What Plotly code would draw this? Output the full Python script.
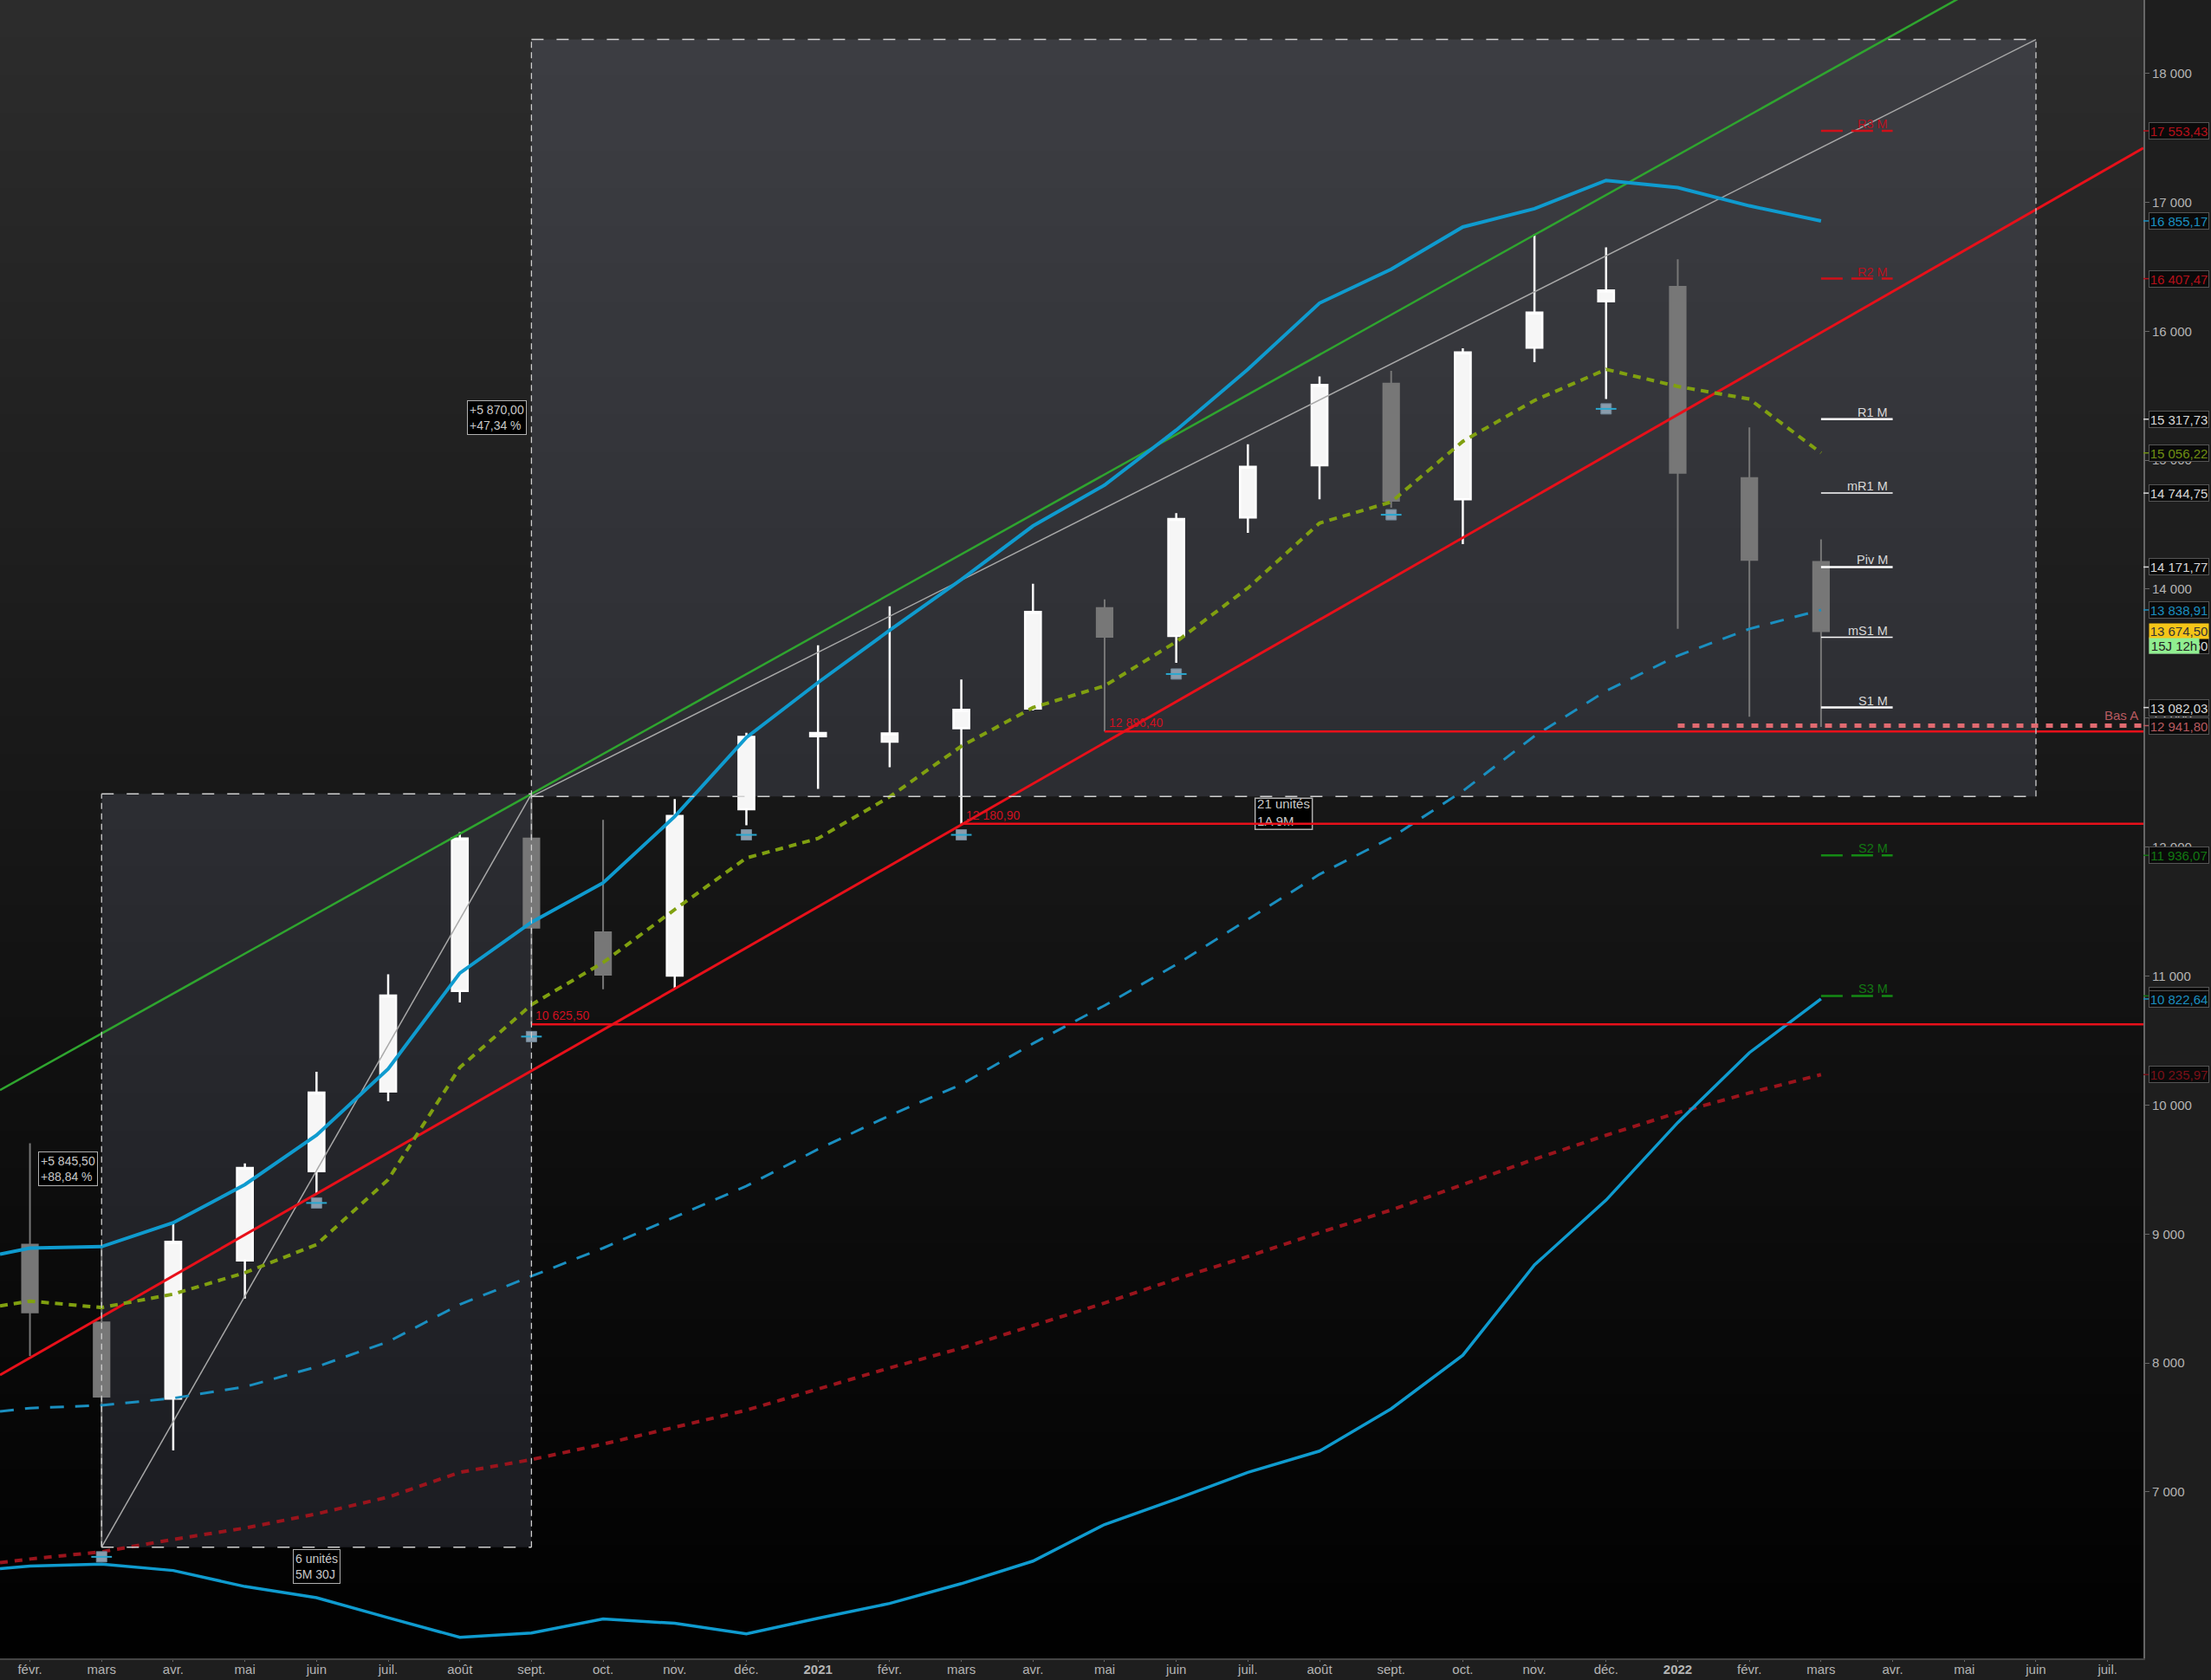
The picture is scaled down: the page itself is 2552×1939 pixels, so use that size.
import plotly.graph_objects as go

# axe des mois : un index par mois, fevr. 2020 = 0
tick_labels = ['févr.', 'mars', 'avr.', 'mai', 'juin', 'juil.', 'août', 'sept.', 'oct.', 'nov.', 'déc.', '<b>2021</b>',
               'févr.', 'mars', 'avr.', 'mai', 'juin', 'juil.', 'août', 'sept.', 'oct.', 'nov.', 'déc.', '<b>2022</b>',
               'févr.', 'mars', 'avr.', 'mai', 'juin', 'juil.']
price_ticks = [7000, 8000, 9000, 10000, 11000, 12000, 13000, 14000, 15000, 16000, 17000, 18000]
price_labels = ['7 000', '8 000', '9 000', '10 000', '11 000', '12 000', '13 000', '14 000', '15 000', '16 000', '17 000', '18 000']

# bougies mensuelles
opens = [8918, 8315, 7724, 8795, 9487, 10105, 10884, 12067, 11340, 11004, 12293, 12860, 12818, 12921, 13075, 13854,
         13637, 14556, 14961, 15594, 14697, 15872, 16232, 16345, 14862, 14211]
highs = [9703, 8900, 9090, 9547, 10258, 11013, 12115, 12412, 12211, 12372, 12886, 13565, 13867, 13300, 14042, 13921,
         14589, 15124, 15649, 15693, 15868, 16750, 16650, 16557, 15255, 14386]
lows = [8055, 6580, 7322, 8499, 9315, 10029, 10795, 10625.5, 10898, 10908, 12170, 12451, 12620, 12180.9, 13059, 12896.4,
        13429, 14437, 14697, 14632, 14349, 15760, 15475, 13693, 13010, 12932]
closes = [8392, 7738, 8939, 9512, 10097, 10849, 12067, 11375, 11011, 12242, 12855, 12885, 12882, 13064, 13823, 13630,
          14544, 14949, 15583, 14685, 15835, 16145, 16315, 14902, 14227, 13674.5]

# moyennes mobiles (bord gauche puis un point par mois)
x_left = -0.418
x_right = 29.5
ma_fast = [8843, 8891, 8902, 9088, 9383, 9766, 10280, 11023, 11417, 11723, 12237, 12850, 13276, 13681, 14074, 14490,
           14807, 15233, 15704, 16218, 16480, 16808, 16950, 17169, 17114, 16972, 16855.17]
ma_olive = [8443, 8480, 8430, 8534, 8700, 8918, 9422, 10291, 10778, 11105, 11516, 11916, 12067, 12390, 12782, 13082,
            13250, 13592, 14009, 14512, 14676, 15146, 15463, 15704, 15572, 15474, 15056.22]
ma_dash_blue = [7625, 7650, 7672, 7727, 7815, 7970, 8165, 8454, 8673, 8891, 9132, 9372, 9657, 9919, 10160, 10477,
                10772, 11089, 11439, 11789, 12073, 12434, 12861, 13211, 13484, 13692, 13838.91]
ma_dash_red = [6452, 6480, 6536, 6632, 6720, 6830, 6960, 7152, 7251, 7371, 7502, 7634, 7798, 7962, 8115, 8290,
               8465, 8651, 8826, 9011, 9186, 9383, 9580, 9766, 9941, 10094, 10235.97]
ma_low_blue = [6405, 6425, 6440, 6391, 6267, 6180, 6025, 5873, 5906, 6015, 5982, 5900, 6021, 6136, 6289, 6464,
               6748, 6945, 7152, 7317, 7645, 8060, 8760, 9263, 9864, 10406, 10822.64]

# droites de tendance, rectangles de mesure
red_trend = [7907, 17420]
green_trend = [10116, 19378]
rect1_x = [1, 7]
rect1_y = [6572, 12412]
rect2_x = [7, 28]
rect2_y = [12392, 18262]

# niveaux horizontaux : (index de depart, prix, etiquette)
level_start = [7, 13, 15]
level_price = [10625.5, 12180.9, 12896.4]
level_text = ['10 625,50', '12 180,90', '12 896,40']
bas_a_start = 23
bas_a = 12941.8

# points pivots mensuels
pivot_names = ['R3 M', 'R2 M', 'R1 M', 'mR1 M', 'Piv M', 'mS1 M', 'S1 M', 'S2 M', 'S3 M']
pivot_values = [17553.43, 16407.47, 15317.73, 14744.75, 14171.77, 13626.6, 13082.03, 11936.07, 10846.33]

# icones sous les bas
icon_x = [1, 4, 7, 10, 13, 16, 19, 22]
icon_y = [6497, 9241, 10531, 12095, 12095, 13342, 14577, 15398]

# etiquettes de prix a droite
tag_values = [17553.43, 16855.17, 16407.47, 15317.73, 15056.22, 14744.75, 14171.77, 13838.91, 13082.03, 12941.8,
              11936.07, 10846.33, 10822.64, 10235.97]
tag_colors = ['#b5101a', '#1a8fc0', '#b5101a', '#d8d8d8', '#6f8f12', '#d8d8d8', '#d8d8d8', '#1a8fc0', '#d8d8d8', '#b85a60',
              '#127812', '#127812', '#1a8fc0', '#7a1018']

FONT = 'Liberation Sans'
BLUE = '#0f9bcf'


def fr_price(v):
    s = f'{v:,.2f}'
    return s.replace(',', ' ').replace('.', ',')


months = list(range(len(closes)))
x_ma = [x_left] + months

fig = go.Figure()

# fond degrade : chaque bande descend jusqu'en bas et recouvre la precedente, pas de raccord visible
bands = 44
for b in range(bands):
    g = 44 - b
    fig.add_shape(type='rect', xref='paper', yref='paper', x0=0, x1=1, y0=0, y1=1 - b / bands,
                  fillcolor=f'rgb({g},{g},{g})', line=dict(width=0), layer='below')

for xs, ys in [(rect1_x, rect1_y), (rect2_x, rect2_y)]:
    fig.add_shape(type='rect', x0=xs[0], x1=xs[1], y0=ys[0], y1=ys[1], fillcolor='rgba(150,155,183,0.17)',
                  line=dict(width=0), layer='below')
    # bordures : pointilles plus serres a la verticale
    for x in xs:
        fig.add_shape(type='line', x0=x, x1=x, y0=ys[0], y1=ys[1], layer='above',
                      line=dict(color='#cfcfcf', width=1.3, dash='7px,5px'))
    for y in ys:
        fig.add_shape(type='line', x0=xs[0], x1=xs[1], y0=y, y1=y, layer='above',
                      line=dict(color='#cfcfcf', width=1.5, dash='14px,15px'))

# cadre noir de l'etiquette 21 unites, sous la ligne rouge
fig.add_shape(type='rect', xsizemode='pixel', ysizemode='pixel', xanchor=17.5, yanchor=12259,
              x0=-33, x1=33, y0=-18, y1=18, fillcolor='#000000', line=dict(color='#b0b0b0', width=1.5), layer='below')

fig.add_trace(go.Candlestick(x=months, open=opens, high=highs, low=lows, close=closes,
                             increasing=dict(line=dict(color='#ffffff', width=2.5), fillcolor='#f6f6f6'),
                             decreasing=dict(line=dict(color='#777777', width=2), fillcolor='#777777'),
                             whiskerwidth=0, hoverinfo='skip'))

fig.add_trace(go.Scatter(x=[rect1_x[0], rect1_x[1]], y=rect1_y, mode='lines', line=dict(color='#a8a8a8', width=1.5)))
fig.add_trace(go.Scatter(x=[rect2_x[0], rect2_x[1]], y=rect2_y, mode='lines', line=dict(color='#a8a8a8', width=1.5)))
fig.add_trace(go.Scatter(x=[x_left, x_right], y=green_trend, mode='lines', line=dict(color='#2fa52f', width=2.5)))
fig.add_trace(go.Scatter(x=[x_left, x_right], y=red_trend, mode='lines', line=dict(color='#e8101a', width=3)))

fig.add_trace(go.Scatter(x=x_ma, y=ma_dash_red, mode='lines', line=dict(color='#9a141c', width=4, dash='9px,8px')))
fig.add_trace(go.Scatter(x=x_ma, y=ma_dash_blue, mode='lines', line=dict(color='#1a8fc0', width=3, dash='16px,13px')))
fig.add_trace(go.Scatter(x=x_ma, y=ma_olive, mode='lines', line=dict(color='#80a010', width=4, dash='9px,7px')))
fig.add_trace(go.Scatter(x=x_ma, y=ma_fast, mode='lines', line=dict(color=BLUE, width=4)))
fig.add_trace(go.Scatter(x=x_ma, y=ma_low_blue, mode='lines', line=dict(color=BLUE, width=3.5)))

fig.add_trace(go.Scatter(x=[17.13], y=[12259], mode='text', text=['21 unités<br>1A 9M'],
                         textposition='middle right', textfont=dict(family=FONT, size=15, color='#c8c8c8')))

for start, price, label in zip(level_start, level_price, level_text):
    fig.add_trace(go.Scatter(x=[start, x_right], y=[price, price], mode='lines', line=dict(color='#e8101a', width=2.5)))
    fig.add_annotation(x=start, y=price, text=label, showarrow=False, xanchor='left', yanchor='bottom', xshift=3, yshift=0,
                       font=dict(family=FONT, size=14, color='#d01020'))

fig.add_trace(go.Scatter(x=[bas_a_start, x_right], y=[bas_a, bas_a], mode='lines',
                         line=dict(color='#e06a70', width=5, dash='8px,9px')))
fig.add_annotation(x=x_right, y=bas_a, text='Bas A', showarrow=False, xanchor='right', yanchor='bottom', xshift=-4, yshift=2,
                   font=dict(family=FONT, size=15, color='#b85a60'))

for name, value in zip(pivot_names, pivot_values):
    if name.startswith('R') and name != 'R1 M':
        color, dash, width = '#d0101a', '25px,10px', 2.5
        txt = '#b8101e'
    elif name in ('S2 M', 'S3 M'):
        color, dash, width = '#148a14', '25px,10px', 2.5
        txt = '#127812'
    else:
        color, dash, width = '#ffffff', None, 1.5 if name.startswith('m') else 2.5
        txt = '#d8d8d8'
    fig.add_trace(go.Scatter(x=[25, 26], y=[value, value], mode='lines', line=dict(color=color, width=width, dash=dash)))
    fig.add_annotation(x=26, y=value, text=name, showarrow=False, xanchor='right', yanchor='bottom', xshift=-4, yshift=-2,
                       font=dict(family=FONT, size=14.5, color=txt))

fig.add_trace(go.Scatter(x=icon_x, y=icon_y, mode='markers',
                         marker=dict(symbol='square', size=12, color='#8a9cac', line=dict(color='#6f8596', width=1))))
fig.add_trace(go.Scatter(x=icon_x, y=icon_y, mode='markers',
                         marker=dict(symbol='line-ew', size=17, color='#2aa8d0', line=dict(color='#2aa8d0', width=2))))

# boites de mesure
fig.add_annotation(x=1, y=9504, text='+5 845,50<br>+88,84 %', showarrow=False, xanchor='right', xshift=-4, align='left',
                   font=dict(family=FONT, size=14, color='#c8c8c8'), bgcolor='#000000', bordercolor='#b0b0b0', borderwidth=1, borderpad=2)
fig.add_annotation(x=7, y=15332, text='+5 870,00<br>+47,34 %', showarrow=False, xanchor='right', xshift=-5, align='left',
                   font=dict(family=FONT, size=14, color='#c8c8c8'), bgcolor='#000000', bordercolor='#b0b0b0', borderwidth=1, borderpad=2)
fig.add_annotation(x=4, y=6420, text='6 unités<br>5M 30J', showarrow=False, align='left',
                   font=dict(family=FONT, size=14, color='#c8c8c8'), bgcolor='#000000', bordercolor='#b0b0b0', borderwidth=1, borderpad=2)

# etiquettes de prix a droite de l'axe
for value, color in zip(tag_values, tag_colors):
    fig.add_shape(type='line', xref='paper', x0=1, x1=1.0026, y0=value, y1=value, layer='above',
                  line=dict(color=color, width=1.5))
    fig.add_annotation(xref='paper', x=1, y=value, text=fr_price(value), showarrow=False, xanchor='left', xshift=6,
                       width=68, height=18, font=dict(family=FONT, size=15, color=color), bgcolor='#0a0a0a',
                       bordercolor='#555555', borderwidth=1, borderpad=0)

fig.add_annotation(xref='paper', x=1, y=13560, text=fr_price(13626.6), showarrow=False, xanchor='left', xshift=6, width=68, height=18,
                   font=dict(family=FONT, size=15, color='#d8d8d8'), bgcolor='#0a0a0a', bordercolor='#555555', borderwidth=1, borderpad=0)
fig.add_annotation(xref='paper', x=1, y=13674.5, text='13 674,50', showarrow=False, xanchor='left', xshift=6, width=68, height=17,
                   font=dict(family=FONT, size=15, color='#333333'), bgcolor='#f5c518', borderpad=0)
fig.add_annotation(xref='paper', x=1, y=13560, text='15J 12h', showarrow=False, xanchor='left', xshift=6, width=57, height=17,
                   font=dict(family=FONT, size=15, color='#222222'), bgcolor='#90ee90', borderpad=0)

fig.update_layout(width=2552, height=1939, margin=dict(l=0, r=78, t=0, b=25), showlegend=False,
                  paper_bgcolor='#1e1e1e', plot_bgcolor='#000000', boxgap=0.78, boxgroupgap=0,
                  xaxis=dict(range=[x_left, x_right], tickmode='array', tickvals=list(range(len(tick_labels))), ticktext=tick_labels,
                             showgrid=False, zeroline=False, rangeslider=dict(visible=False), ticks='outside', ticklen=2,
                             ticklabelstandoff=-4, tickcolor='#666666', showline=True, linecolor='#444444', linewidth=2,
                             tickfont=dict(family=FONT, size=15, color='#b4b4b4')),
                  yaxis=dict(range=[5710, 18568], side='right', tickmode='array', tickvals=price_ticks, ticktext=price_labels,
                             showgrid=False, zeroline=False, ticks='outside', ticklen=5, tickcolor='#666666',
                             showline=True, linecolor='#666666', linewidth=2,
                             tickfont=dict(family=FONT, size=15, color='#b4b4b4')))

fig.write_html('out.html', config=dict(displayModeBar=False),
               post_script="document.body.style.margin='0';document.body.style.overflow='hidden';")
